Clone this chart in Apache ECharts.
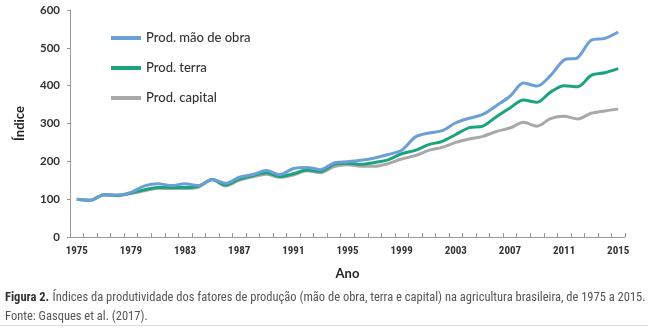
<!DOCTYPE html>
<html><head><meta charset="utf-8">
<script src="https://cdn.jsdelivr.net/npm/echarts@6/dist/echarts.min.js"></script>
<style>html,body{margin:0;padding:0;background:#fff}#c{width:648px;height:328px}</style>
</head><body><div id="c"></div>
<script>
const years = [];
for (let y = 1975; y <= 2015; y++) years.push(String(y));
const seriesNames = ['Prod. mão de obra', 'Prod. terra', 'Prod. capital'];
const maoDeObra = [100, 97, 112, 111, 118, 135, 141, 136, 141, 136, 152, 142, 158, 165, 176, 165, 181, 184, 178, 196, 199, 203, 209, 218, 229, 264, 275, 281, 302, 314, 324, 347, 372, 407, 399, 427, 468, 474, 520, 525, 542];
const terra = [100, 97, 112, 110, 116, 125, 131, 131, 131, 134, 152, 138, 153, 162, 170, 160, 167, 177, 173, 192, 195, 192, 197, 204, 220, 229, 244, 253, 271, 289, 293, 318, 341, 362, 356, 383, 400, 397, 427, 434, 445];
const capital = [100, 97, 111, 109, 115, 122, 129, 128, 128, 132, 151, 135, 150, 159, 166, 158, 164, 175, 170, 186, 191, 187, 187, 194, 206, 215, 229, 237, 250, 259, 266, 279, 288, 303, 293, 313, 319, 312, 327, 333, 338];
const yTicks = [0, 100, 200, 300, 400, 500, 600];
const colors = ['#6b9fd6', '#1aa37e', '#a8a8a8'];

const chart = echarts.init(document.getElementById('c'), null, {renderer: 'canvas'});
const font = 'Lato, "Open Sans", sans-serif';
const narrow = '"Liberation Sans Narrow", "Roboto Condensed", Lato, sans-serif';
function mk(name, data, i) {
  return {name: name, type: 'line', data: data, smooth: 0.3, symbol: 'none',
    lineStyle: {width: 3, color: colors[i]}, itemStyle: {color: colors[i]}, z: 3 - i};
}
chart.setOption({
  backgroundColor: '#fff',
  animation: false,
  grid: {left: 70, right: 23, top: 10, bottom: 91},
  legend: {
    orient: 'vertical', left: 106, top: 26, itemWidth: 30, itemHeight: 4, itemGap: 16,
    icon: 'rect',
    data: seriesNames,
    textStyle: {fontFamily: font, fontSize: 13, color: '#333', fontWeight: 500, lineHeight: 14}
  },
  xAxis: {
    type: 'category', data: years, boundaryGap: true,
    name: 'Ano', nameLocation: 'middle', nameGap: 30,
    nameTextStyle: {fontFamily: font, fontSize: 13, fontWeight: 'bold', color: '#222'},
    axisLine: {lineStyle: {color: '#999', width: 1}},
    axisTick: {show: true, inside: true, length: 4, interval: 0, lineStyle: {color: '#999'}},
    axisLabel: {interval: 3, margin: 9, fontFamily: narrow, fontSize: 11, fontWeight: 'bold', color: '#333'},
    splitLine: {show: false}
  },
  yAxis: {
    type: 'value', min: 0, max: 600, interval: 100,
    name: 'Índice', nameLocation: 'middle', nameGap: 44, nameRotate: 90,
    nameTextStyle: {fontFamily: font, fontSize: 13, fontWeight: 'bold', color: '#222'},
    axisLine: {show: true, lineStyle: {color: '#999', width: 1}},
    axisTick: {show: true, length: 3, lineStyle: {color: '#999'}},
    axisLabel: {margin: 10, fontFamily: font, fontSize: 11.5, fontWeight: 'bold', color: '#333',
      formatter: v => yTicks.includes(v) ? String(v) : ''},
    splitLine: {show: false}
  },
  series: [mk(seriesNames[0], maoDeObra, 0), mk(seriesNames[1], terra, 1), mk(seriesNames[2], capital, 2)],
  graphic: [
    {type: 'text', left: 5, top: 291, style: {
      text: '{b|Figura 2.} {n|Índices da produtividade dos fatores de produção (mão de obra, terra e capital) na agricultura brasileira, de 1975 a 2015.}',
      rich: {
        b: {fontFamily: narrow, fontSize: 12.5, fontWeight: 'bold', fill: '#333'},
        n: {fontFamily: narrow, fontSize: 12.5, fill: '#555'}
      }}},
    {type: 'text', left: 5, top: 310, style: {text: 'Fonte: Gasques et al. (2017).', fontFamily: narrow, fontSize: 12.5, fill: '#555'}},
    {type: 'rect', left: 0, top: 325, shape: {width: 648, height: 1}, style: {fill: '#ddd'}}
  ]
});
</script></body></html>
